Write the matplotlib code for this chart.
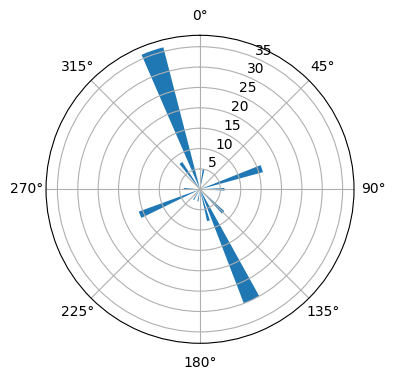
import numpy as np
import matplotlib
matplotlib.use("Agg")
import matplotlib.pyplot as plt

# bar directions (deg, clockwise from north), counts and angular widths (deg)
directions = [10, 71.5, 90, 135, 155, 165, 190, 212, 247, 272, 324, 341]
counts = [5, 16, 6, 8, 30, 8, 3, 3, 16, 4, 8, 36]
widths = [5, 6.5, 6, 6, 8, 5, 5, 5, 6, 5, 6, 9]

fig = plt.figure(figsize=(3.96, 3.80), dpi=100)
ax = fig.add_axes([0.1162, 0.0966, 0.7778, 0.8105], projection='polar')
ax.set_theta_zero_location('N')
ax.set_theta_direction(-1)

ax.bar(np.radians(directions), counts, width=np.radians(widths), bottom=0.0, color='tab:blue')

ax.set_rlim(0, 37.8)
ax.set_rticks([5, 10, 15, 20, 25, 30, 35])
ax.grid(True)

fig.savefig("out.png", dpi=100)
